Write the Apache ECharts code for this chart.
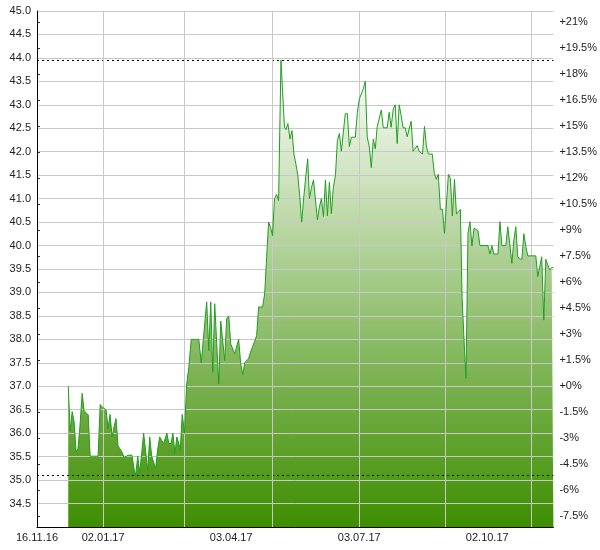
<!DOCTYPE html>
<html>
<head>
<meta charset="utf-8">
<script src="https://cdn.jsdelivr.net/npm/echarts@6/dist/echarts.min.js"></script>
<style>
  html, body { margin: 0; padding: 0; background: #fff; }
  #chart { width: 600px; height: 550px; }
</style>
</head>
<body>
<div id="chart"></div>
<script>
// start of the x axis
var startDate = '2016-11-16';

// days since startDate
var days = [
    22.2, 23.6, 25.0, 26.4, 27.8, 29.1, 30.5, 32.1, 33.5, 34.9,
    36.4, 37.8, 43.4, 44.9, 46.6, 49.1, 50.5, 51.9, 53.4, 54.8,
    56.2, 57.6, 59.0, 60.4, 61.9, 63.3, 64.7, 66.1, 67.5, 68.9,
    70.1, 71.6, 73.0, 74.4, 75.8, 77.2, 78.7, 80.1, 81.5, 82.9,
    84.3, 85.7, 87.2, 88.6, 90.0, 91.4, 92.3, 93.7, 95.2, 96.6,
    98.0, 99.4, 100.8, 101.8, 103.2, 104.9, 106.3, 107.9, 109.6, 115.0,
    116.7, 117.8, 120.6, 122.1, 123.5, 124.9, 126.3, 129.2, 130.6, 132.0,
    133.4, 134.8, 136.3, 137.7, 139.1, 140.5, 141.9, 143.3, 144.8, 146.2,
    147.6, 149.0, 150.4, 151.8, 153.3, 154.7, 156.1, 157.5, 160.3, 161.8,
    163.2, 164.6, 166.0, 167.4, 168.8, 170.3, 171.7, 173.4, 174.5, 175.9,
    176.9, 178.3, 179.8, 181.2, 182.6, 184.0, 185.4, 186.8, 188.1, 189.5,
    191.0, 192.4, 193.6, 195.1, 196.5, 197.9, 199.3, 200.7, 202.1, 203.6,
    205.0, 206.4, 207.8, 209.2, 210.6, 212.1, 213.5, 214.9, 216.3, 217.7,
    219.1, 220.6, 222.0, 223.4, 226.2, 227.7, 229.1, 230.5, 231.9, 233.3,
    234.7, 236.2, 237.6, 239.0, 240.4, 241.8, 243.2, 244.7, 246.1, 248.9,
    250.3, 251.7, 253.2, 254.6, 256.0, 257.4, 258.8, 260.2, 261.7, 263.1,
    264.5, 265.9, 267.3, 268.7, 270.2, 271.6, 273.0, 274.0, 275.4, 276.8,
    278.2, 280.9, 282.4, 283.8, 285.2, 286.7, 288.2, 289.6, 291.0, 292.4,
    293.8, 295.2, 296.7, 298.1, 299.5, 300.9, 302.1, 303.5, 304.9, 306.3,
    307.7, 309.1, 310.6, 312.0, 313.4, 314.8, 320.5, 321.9, 323.3, 324.7,
    327.6, 329.0, 330.4, 333.2, 334.6, 336.1, 337.5, 338.9, 340.3, 341.7,
    343.1, 344.6, 346.0, 347.4, 348.8, 354.5, 355.9, 357.3, 358.7, 360.2,
    361.6, 363.0, 364.4, 365.8, 367.0
];

var prices = [
    37.00, 36.05, 36.46, 36.24, 35.60, 35.67, 36.14, 36.85, 36.48, 36.50,
    36.39, 35.51, 35.51, 36.61, 36.55, 36.50, 36.10, 36.40, 35.92, 36.14,
    36.31, 35.73, 35.71, 35.60, 35.48, 35.51, 35.53, 35.57, 35.53, 35.25,
    35.10, 35.51, 35.16, 35.57, 36.00, 36.00, 35.21, 35.92, 35.51, 35.51,
    35.25, 35.64, 35.92, 35.85, 35.78, 35.81, 36.00, 35.78, 35.78, 36.00,
    35.57, 35.92, 35.78, 35.64, 36.40, 36.00, 37.03, 37.40, 38.00, 38.00,
    37.50, 37.50, 38.80, 37.76, 38.80, 37.30, 38.76, 37.05, 38.39, 38.35,
    37.55, 38.44, 38.50, 37.90, 37.90, 37.69, 37.69, 38.00, 37.48, 37.25,
    37.50, 37.47, 37.59, 37.73, 37.85, 37.96, 38.08, 38.69, 38.69, 38.97,
    39.75, 40.50, 40.39, 40.21, 41.00, 41.09, 40.96, 43.95, 43.30, 42.52,
    42.47, 42.60, 42.27, 42.45, 41.95, 41.74, 41.49, 41.03, 40.50, 41.00,
    41.47, 41.85, 41.00, 41.24, 41.40, 41.40, 40.55, 40.82, 41.00, 40.62,
    41.40, 40.63, 41.35, 40.68, 41.24, 41.49, 42.24, 42.39, 42.01, 42.01,
    42.81, 42.81, 42.11, 42.31, 42.31, 42.84, 43.13, 43.23, 43.34, 43.50,
    42.31, 42.10, 41.66, 42.27, 42.06, 42.54, 42.52, 42.89, 42.51, 42.51,
    42.84, 42.52, 42.91, 43.00, 42.17, 43.00, 42.77, 42.51, 42.51, 42.32,
    42.32, 42.65, 42.01, 42.01, 42.13, 42.01, 42.01, 41.95, 42.54, 42.10,
    41.95, 41.95, 41.54, 41.41, 41.52, 40.77, 40.77, 40.26, 40.22, 41.52,
    41.43, 40.63, 41.41, 40.67, 40.63, 40.77, 38.91, 37.99, 37.17, 40.26,
    40.51, 39.99, 40.37, 40.40, 40.32, 40.00, 40.00, 39.82, 40.00, 39.82,
    39.82, 40.51, 40.00, 40.00, 40.40, 40.01, 39.62, 40.12, 40.40, 39.76,
    39.71, 39.71, 40.25, 39.98, 39.78, 39.78, 39.34, 39.55, 39.76, 38.41,
    39.71, 39.59, 39.48, 39.53, 39.53
];

// x labels and vertical grid lines
var labelDates = ['2016-11-16', '2017-01-02', '2017-04-03', '2017-07-03', '2017-10-02'];
var gridDates = ['2017-01-02', '2017-03-01', '2017-05-02', '2017-07-03', '2017-09-02', '2017-11-02'];

// right axis ticks, percent change against the first price
var pctTicks = [-7.5, -6, -4.5, -3, -1.5, 0, 1.5, 3, 4.5, 6, 7.5, 9, 10.5, 12, 13.5, 15, 16.5, 18, 19.5, 21];

var priceMin = 34, priceMax = 45, endDay = 367;

var DAY = 86400000;
var t0 = Date.parse(startDate);
function toDay(s) { return (Date.parse(s) - t0) / DAY; }
function pad(n) { return (n < 10 ? '0' : '') + n; }
function fmtDate(v) {
    var d = new Date(t0 + Math.round(v) * DAY);
    return pad(d.getUTCDate()) + '.' + pad(d.getUTCMonth() + 1) + '.' + String(d.getUTCFullYear()).slice(2);
}

var base = prices[0];
var points = days.map(function (d, i) { return [d, prices[i]]; });

var txt = {color: '#222', fontSize: 11, fontFamily: 'Liberation Sans, Arial, sans-serif'};
var gridColor = '#c8c8c8';

var chart = echarts.init(document.getElementById('chart'), null, {renderer: 'canvas'});

// layers: area (0) < grid/axes (1) < line + min/max marks (2)
chart.setOption({
    animation: false,
    grid: {left: 37, right: 45, top: 11, bottom: 23, containLabel: false},
    xAxis: [{
        type: 'value', min: 0, max: endDay, position: 'bottom', zlevel: 1, z: 5,
        axisLine: {show: true, onZero: false, lineStyle: {color: '#000', width: 1}},
        axisTick: {show: false},
        axisLabel: Object.assign({customValues: labelDates.map(toDay), formatter: fmtDate, margin: 5}, txt),
        splitLine: {show: false}
    }, {
        type: 'value', min: 0, max: endDay, position: 'bottom', zlevel: 1, z: 1,
        axisLine: {show: false},
        axisTick: {show: false, customValues: gridDates.map(toDay)},
        axisLabel: {show: false, customValues: gridDates.map(toDay)},
        splitLine: {show: true, lineStyle: {color: gridColor, width: 1}}
    }],
    yAxis: [{
        type: 'value', min: priceMin, max: priceMax, interval: 0.5, position: 'left', zlevel: 1, z: 4,
        axisLine: {show: true, lineStyle: {color: '#000', width: 1}},
        axisTick: {show: false},
        axisLabel: Object.assign({
            margin: 6,
            formatter: function (v) { return v <= priceMin ? '' : v.toFixed(1); }
        }, txt),
        splitLine: {show: true, lineStyle: {color: gridColor, width: 1}}
    }, {
        type: 'value', position: 'right', zlevel: 1,
        min: (priceMin / base - 1) * 100,
        max: (priceMax / base - 1) * 100,
        axisLine: {show: false},
        axisTick: {show: true, length: 3, customValues: pctTicks, lineStyle: {color: '#333'}},
        axisLabel: Object.assign({
            margin: 6,
            customValues: pctTicks,
            formatter: function (v) { return (v >= 0 ? '+' : '') + v + '%'; }
        }, txt),
        splitLine: {show: false}
    }],
    series: [{
        // filled area only
        type: 'line',
        xAxisIndex: 0,
        yAxisIndex: 0,
        data: points,
        showSymbol: false,
        symbol: 'none',
        lineStyle: {width: 0},
        areaStyle: {
            color: new echarts.graphic.LinearGradient(0, 0, 0, 1, [
                {offset: 0, color: '#ffffff'},
                {offset: 1, color: '#3d8e00'}
            ]),
            opacity: 1
        },
        emphasis: {disabled: true},
        silent: true
    }, {
        // price line over the grid
        type: 'line',
        zlevel: 2,
        xAxisIndex: 0,
        yAxisIndex: 0,
        data: points,
        showSymbol: false,
        symbol: 'none',
        lineStyle: {color: '#1f9e1f', width: 1},
        emphasis: {disabled: true},
        markLine: {
            silent: true,
            symbol: 'none',
            label: {show: false},
            lineStyle: {color: '#000', type: [2, 3], width: 1},
            data: [{type: 'max', valueDim: 'y'}, {type: 'min', valueDim: 'y'}]
        }
    }]
});
</script>
</body>
</html>
